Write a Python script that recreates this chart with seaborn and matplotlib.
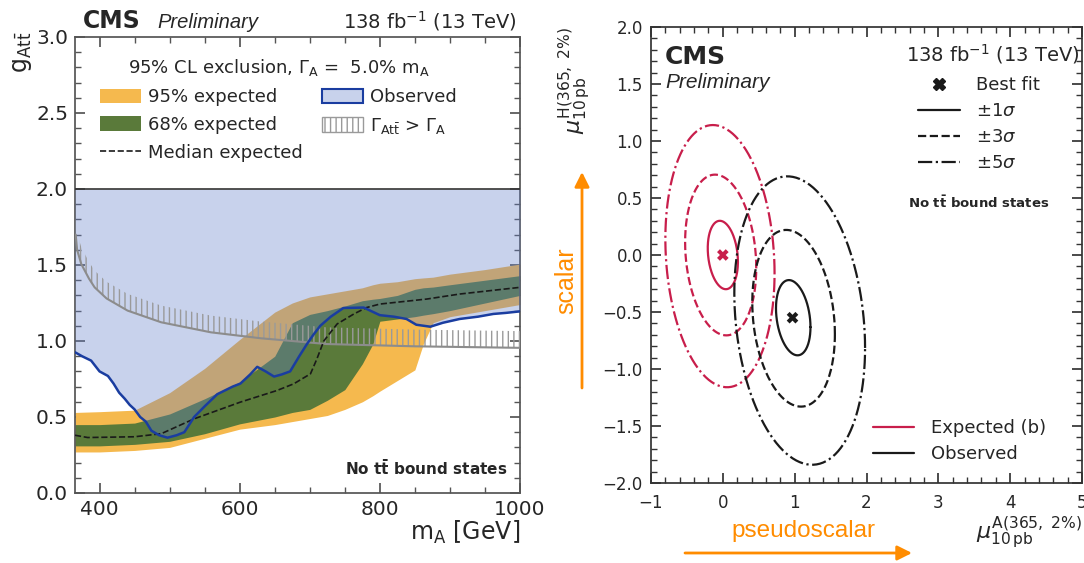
import numpy as np
import pandas as pd
import matplotlib
matplotlib.use('Agg')
from matplotlib import pyplot as plt
from matplotlib.patches import Patch
from matplotlib.lines import Line2D
from matplotlib.ticker import MultipleLocator
import seaborn as sns

# ---- left panel: 95% CL exclusion on g_Att vs m_A
band_mass = [365, 400, 450, 500, 550, 600, 650, 675, 700, 725, 750, 775, 790, 800,
             825, 850, 862, 876, 900, 950, 1000]
exp95_lo = [0.27, 0.27, 0.28, 0.30, 0.36, 0.42, 0.45, 0.47, 0.49, 0.51, 0.55, 0.60, 0.64, 0.67,
            0.74, 0.81, 0.98, 1.12, 1.16, 1.20, 1.24]
exp95_hi = [0.53, 0.535, 0.545, 0.66, 0.82, 1.01, 1.19, 1.25, 1.29, 1.31, 1.33, 1.35, 1.37, 1.38,
            1.39, 1.41, 1.415, 1.42, 1.44, 1.47, 1.506]
exp68_lo = [0.31, 0.31, 0.32, 0.34, 0.39, 0.455, 0.50, 0.53, 0.55, 0.61, 0.68, 0.85, 0.98, 1.13,
            1.145, 1.16, 1.17, 1.18, 1.20, 1.25, 1.30]
exp68_hi = [0.45, 0.45, 0.46, 0.52, 0.62, 0.73, 0.90, 1.12, 1.175, 1.20, 1.23, 1.265, 1.275, 1.28,
            1.30, 1.34, 1.35, 1.355, 1.37, 1.40, 1.43]

median_mass = [365, 383, 450, 488, 535, 601, 653, 677, 701, 710, 720, 739, 763, 781, 800, 867, 914, 1000]
median_g = [0.38, 0.365, 0.37, 0.39, 0.488, 0.598, 0.674, 0.718, 0.784, 0.88, 1.0, 1.112, 1.178,
            1.22, 1.243, 1.276, 1.309, 1.353]

obs_mass = [365, 375, 388, 400, 412, 420, 428, 436, 443, 450, 458, 466, 474, 485, 497, 510, 521,
            535, 550, 568, 590, 601, 615, 625, 637, 649, 660, 672, 685, 696, 705, 715, 730, 748,
            777, 800, 820, 838, 852, 872, 890, 914, 940, 962, 980, 1000]
obs_g = [0.926, 0.90, 0.871, 0.80, 0.77, 0.72, 0.66, 0.62, 0.58, 0.55, 0.50, 0.47, 0.41, 0.38,
         0.364, 0.38, 0.40, 0.50, 0.57, 0.65, 0.70, 0.72, 0.78, 0.83, 0.80, 0.766, 0.78, 0.80,
         0.90, 0.98, 1.04, 1.10, 1.16, 1.217, 1.22, 1.17, 1.16, 1.145, 1.107, 1.094, 1.12, 1.145,
         1.16, 1.178, 1.185, 1.195]

width_mass = [366, 368, 374, 385, 393, 410, 440, 488, 559, 630, 724, 850, 1000]
width_g = [1.70, 1.60, 1.506, 1.41, 1.353, 1.28, 1.20, 1.123, 1.057, 1.018, 0.98, 0.965, 0.955]

# ---- right panel: likelihood contours in (mu_A, mu_H)
contour_group = ['Expected (b)'] * 3 + ['Observed'] * 3
contour_level = [1, 3, 5, 1, 3, 5]
contour_cx = [0.0, -0.03, -0.04, 0.98, 0.985, 1.07]
contour_cy = [0.0, 0.0, -0.01, -0.55, -0.555, -0.575]
contour_sx = [0.21, 0.495, 0.76, 0.24, 0.575, 0.91]
contour_sy = [0.30, 0.705, 1.15, 0.33, 0.775, 1.265]
contour_rho = [-0.2, -0.16, -0.13, -0.25, -0.18, -0.19]
bestfit_group = ['Expected (b)', 'Observed']
bestfit_x = [0.0, 0.97]
bestfit_y = [0.0, -0.55]

YELLOW = '#F5B94E'
GREEN = '#5A7A3A'
BLUE = '#627EC9'
BLUE_LINE = '#1A3DA0'
GRAY = '#8c8c8c'
ORANGE = '#FF8C00'
group_col = {'Expected (b)': '#C81E4B', 'Observed': '#1a1a1a'}
level_ls = {1: '-', 3: '--', 5: '-.'}

sns.set_theme(style='ticks')
plt.rcParams['font.family'] = ['DejaVu Sans']
plt.rcParams['hatch.linewidth'] = 1.0

fig = plt.figure(figsize=(10.84, 5.63), dpi=100)
W, H = 1084, 563
ax = fig.add_axes([75 / W, 70 / H, 445 / W, 456 / H])
axr = fig.add_axes([651 / W, 80 / H, 431 / W, 456 / H])

# ---------------- left panel
ax.fill_between(band_mass, exp95_lo, exp95_hi, color=YELLOW, lw=0, zorder=1)
ax.fill_between(band_mass, exp68_lo, exp68_hi, color=GREEN, lw=0, zorder=2)
ax.fill_between(obs_mass, obs_g, 2.0, color=BLUE, alpha=0.35, lw=0, zorder=3)
ax.fill_between(width_mass, width_g, np.array(width_g) + 0.11, facecolor='none',
                edgecolor='#9a9a9a', hatch='|||', lw=0, zorder=4)
sns.lineplot(x=width_mass, y=width_g, color=GRAY, lw=1.5, ax=ax, zorder=4)
sns.lineplot(x=median_mass, y=median_g, color='k', linestyle='--', lw=1.2, ax=ax, zorder=5)
sns.lineplot(x=obs_mass, y=obs_g, color=BLUE_LINE, lw=1.8, ax=ax, zorder=6)
ax.axhline(2.0, color='#333333', lw=1.2, zorder=6)

ax.set_xlim(365, 1000)
ax.set_ylim(0, 3.0)
ax.xaxis.set_major_locator(MultipleLocator(200))
ax.xaxis.set_minor_locator(MultipleLocator(50))
ax.yaxis.set_major_locator(MultipleLocator(0.5))
ax.yaxis.set_minor_locator(MultipleLocator(0.1))
ax.tick_params(which='both', direction='in', top=True, right=True, color='#555555')
ax.tick_params(which='major', length=7, labelsize=14.5, pad=5)
ax.tick_params(which='minor', length=4)
for s in ax.spines.values():
    s.set_color('#555555')

ax.set_xlabel(r'm$_\mathrm{A}$ [GeV]', fontsize=17, loc='right')
ax.xaxis.set_label_coords(1.0, -0.056)
ax.set_ylabel(r'g$_{\mathrm{At\bar{t}}}$', fontsize=17, loc='top')
ax.yaxis.set_label_coords(-0.092, 1.013)

handles = [Patch(facecolor=YELLOW, edgecolor='none', label='95% expected'),
           Patch(facecolor=GREEN, edgecolor='none', label='68% expected'),
           Line2D([], [], color='k', ls='--', lw=1.2, label='Median expected'),
           Patch(facecolor='#C8D2EC', edgecolor=BLUE_LINE, lw=1.5, label='Observed'),
           Patch(facecolor='white', edgecolor='#9a9a9a', hatch='|||', lw=1,
                 label=r'$\Gamma_{\mathrm{At\bar{t}}}$ > $\Gamma_\mathrm{A}$')]
ax.legend(handles=handles, ncol=2, loc='upper left', bbox_to_anchor=(0.056, 0.956),
          borderaxespad=0, borderpad=0, frameon=False, fontsize=13,
          title=r'95% CL exclusion, $\Gamma_\mathrm{A}$ =  5.0% m$_\mathrm{A}$', title_fontsize=13,
          handlelength=2.28, handleheight=0.85, handletextpad=0.4, columnspacing=1.05,
          labelspacing=0.55)

fig.text(83 / W, 1 - 28 / H, 'CMS', fontsize=17, fontweight='bold', va='baseline')
fig.text(157 / W, 1 - 28 / H, 'Preliminary', fontsize=14.5, style='italic',
         family='Liberation Sans', va='baseline')
fig.text(517 / W, 1 - 28 / H, r'138 fb$^{-1}$ (13 TeV)', fontsize=14, ha='right', va='baseline')
fig.text(507 / W, 95 / H, r'No $\mathbf{t\bar{t}}$ bound states', fontsize=11,
         fontweight='bold', ha='right', va='center')

# ---------------- right panel
t = np.linspace(0, 2 * np.pi, 241)
for g, lev, cx, cy, sx, sy, rho in zip(contour_group, contour_level, contour_cx, contour_cy,
                                        contour_sx, contour_sy, contour_rho):
    ex = cx + sx * np.cos(t)
    ey = cy + sy * (rho * np.cos(t) + np.sqrt(1 - rho ** 2) * np.sin(t))
    sns.lineplot(x=ex, y=ey, sort=False, estimator=None, color=group_col[g],
                 linestyle=level_ls[lev], lw=1.6, ax=axr)
sns.scatterplot(x=bestfit_x, y=bestfit_y, hue=bestfit_group, palette=group_col, marker='X',
                s=70, edgecolor='none', legend=False, ax=axr, zorder=5)

axr.set_xlim(-1, 5)
axr.set_ylim(-2, 2)
axr.xaxis.set_major_locator(MultipleLocator(1))
axr.xaxis.set_minor_locator(MultipleLocator(0.2))
axr.yaxis.set_major_locator(MultipleLocator(0.5))
axr.yaxis.set_minor_locator(MultipleLocator(0.1))
axr.yaxis.set_major_formatter('{x:.1f}')
axr.tick_params(which='both', direction='in', top=True, right=True, color='#333333')
axr.tick_params(which='major', length=7, labelsize=12, pad=6)
axr.tick_params(which='minor', length=4)
axr.tick_params(axis='x', which='major', pad=8)
for s in axr.spines.values():
    s.set_color('#333333')

axr.set_xlabel(r'$\mu^{\mathrm{A(365,\ 2\%)}}_{\mathrm{10\,pb}}$', fontsize=16, loc='right')
axr.xaxis.set_label_coords(1.0, -0.07)
axr.set_ylabel(r'$\mu^{\mathrm{H(365,\ 2\%)}}_{\mathrm{10\,pb}}$', fontsize=16, loc='top')
axr.yaxis.set_label_coords(-0.135, 1.0)

h1 = [Line2D([], [], marker='X', color='k', ls='none', markersize=8, label='Best fit'),
      Line2D([], [], color='k', ls='-', lw=1.6, label=r'$\pm1\sigma$'),
      Line2D([], [], color='k', ls='--', lw=1.6, label=r'$\pm3\sigma$'),
      Line2D([], [], color='k', ls='-.', lw=1.6, label=r'$\pm5\sigma$')]
leg1 = axr.legend(handles=h1, loc='upper left', bbox_to_anchor=(0.6195, 0.8925),
                  borderaxespad=0, borderpad=0, frameon=False, fontsize=13,
                  handlelength=2.33, handletextpad=0.9, labelspacing=0.45)
axr.add_artist(leg1)
h2 = [Line2D([], [], color=group_col[g], lw=1.6, label=g) for g in ['Expected (b)', 'Observed']]
axr.legend(handles=h2, loc='upper left', bbox_to_anchor=(0.515, 0.14),
           borderaxespad=0, borderpad=0, frameon=False, fontsize=13,
           handlelength=2.3, handletextpad=0.9, labelspacing=0.45)

fig.text(665 / W, 1 - 64 / H, 'CMS', fontsize=18, fontweight='bold', va='baseline')
fig.text(665 / W, 1 - 88 / H, 'Preliminary', fontsize=15, style='italic',
         family='Liberation Sans', va='baseline')
fig.text(1080 / W, 1 - 61 / H, r'138 fb$^{-1}$ (13 TeV)', fontsize=14, ha='right', va='baseline')
fig.text(979 / W, 1 - 203 / H, r'No $\mathbf{t\bar{t}}$ bound states', fontsize=9.5,
         fontweight='bold', ha='center', va='center')

# orange guide arrows
fig.text(566 / W, 1 - 281 / H, 'scalar', fontsize=18, color=ORANGE, rotation=90,
         family='Liberation Sans', ha='center', va='center')
fig.text(803 / W, 1 - 531 / H, 'pseudoscalar', fontsize=17.5, color=ORANGE,
         family='Liberation Sans', ha='center', va='center')
arrow = dict(arrowstyle='-|>', color=ORANGE, lw=2, mutation_scale=22, shrinkA=0, shrinkB=0)
fig.add_artist(plt.Annotation('', xy=(582, H - 172), xytext=(582, H - 388),
                              xycoords='figure pixels', arrowprops=arrow))
fig.add_artist(plt.Annotation('', xy=(912, H - 553), xytext=(685, H - 553),
                              xycoords='figure pixels', arrowprops=arrow))

fig.savefig('out.png', dpi=100)
